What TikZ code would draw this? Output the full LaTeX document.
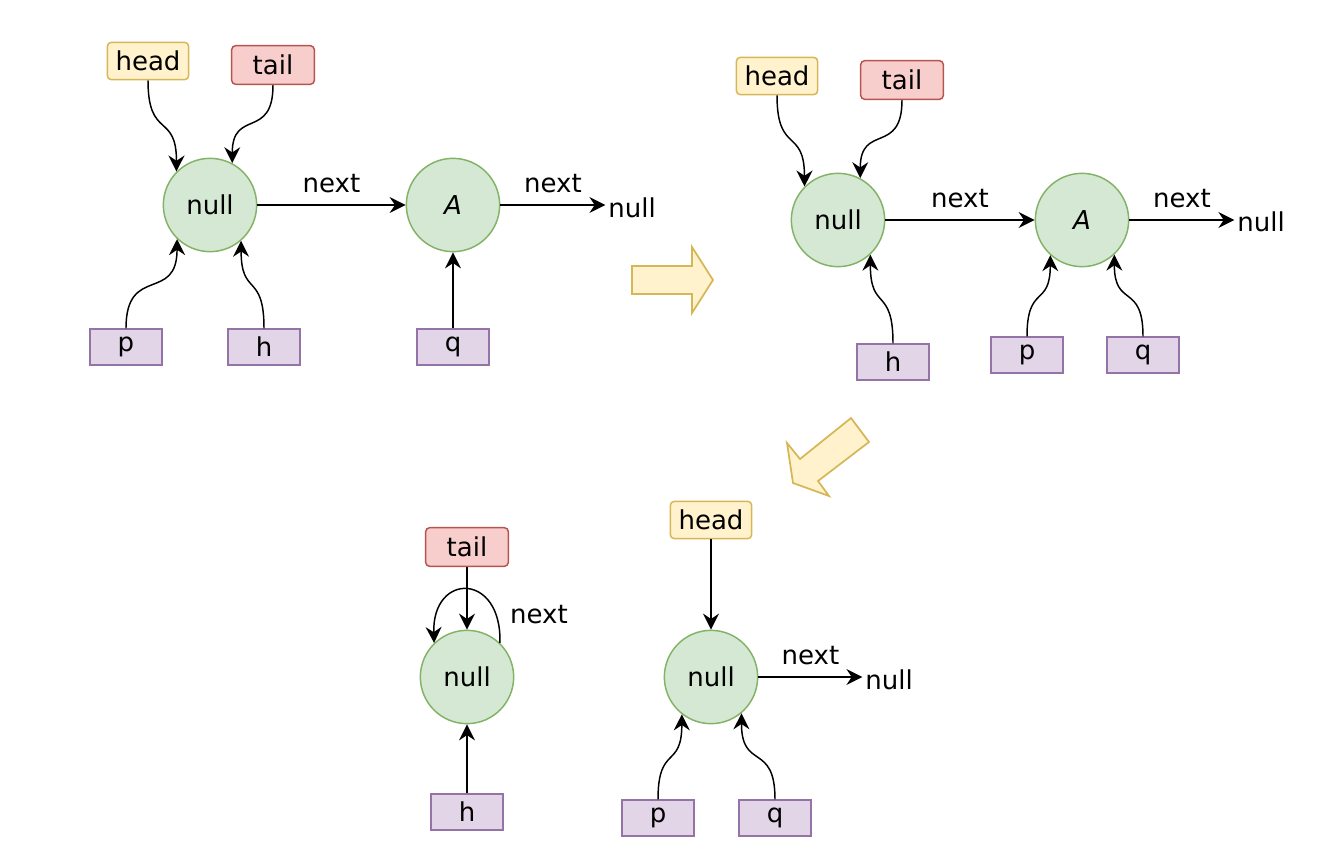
\documentclass[tikz,border=0pt]{standalone}
\usepackage{fontspec}
\setmainfont{DejaVu Sans}
\usetikzlibrary{arrows.meta}
\definecolor{hdfill}{HTML}{FFF2CC}
\definecolor{hdline}{HTML}{D6B656}
\definecolor{tlfill}{HTML}{F8CECC}
\definecolor{tlline}{HTML}{B85450}
\definecolor{itfill}{HTML}{D5E8D4}
\definecolor{itline}{HTML}{82B366}
\definecolor{ptfill}{HTML}{E1D5E7}
\definecolor{ptline}{HTML}{9673A6}
\tikzset{
  every node/.style={font=\fontsize{19.5}{22}\selectfont},
  item/.style={circle,draw=itline,fill=itfill,line width=1.1pt,minimum size=70pt,inner sep=0pt},
  headbox/.style={rounded corners=3pt,draw=hdline,fill=hdfill,line width=1.1pt,minimum width=61pt,minimum height=28pt,inner sep=0pt},
  tailbox/.style={rounded corners=3pt,draw=tlline,fill=tlfill,line width=1.1pt,minimum width=62pt,minimum height=29pt,inner sep=0pt},
  ptrbox/.style={draw=ptline,fill=ptfill,line width=1.1pt,minimum width=54pt,minimum height=27pt,inner sep=0pt},
  nil/.style={inner sep=2pt},
  ptr/.style={line width=1.1pt,-{Stealth[length=12pt,width=12pt,inset=4pt]}},
  swing/.style={looseness=1.6},
  fatarrow/.style={draw=hdline,fill=hdfill,line width=1.3pt,line join=miter}
}
\begin{document}
\begin{tikzpicture}[x=0.75pt,y=-0.75pt]
  \useasboundingbox (0,0) rectangle (1333,849);

  % first state
  \node[headbox] (head1) at (148,61) {head};
  \node[tailbox] (tail1) at (273,65) {tail};
  \node[item] (null1) at (210,205) {null};
  \node[item] (a1) at (453,205) {\itshape A};
  \node[nil] (nil1) at (632,208) {null};
  \node[ptrbox] (p1) at (126,347) {p};
  \node[ptrbox] (h1) at (264,347) {h};
  \node[ptrbox] (q1) at (453,347) {q};
  \draw[ptr] (head1.south) to[out=-90,in=90,swing] (null1.135);
  \draw[ptr] (tail1.south) to[out=-90,in=90,swing] (null1.62);
  \draw[ptr] (p1.north) to[out=90,in=-90,swing] (null1.226);
  \draw[ptr] (h1.north) to[out=90,in=-90,swing] (null1.311);
  \draw[ptr] (q1.north) -- (a1.south);
  \draw[ptr] (null1.east) -- (a1.west) node[midway,above=5pt] (next1) {next};
  \draw[ptr] (a1.east) -- (nil1.west |- a1.east) node[midway,above=5pt] (next2) {next};

  \draw[fatarrow] (632,266) -- (692,266) -- (692,247) -- (713,280)
    -- (692,313) -- (692,294) -- (632,294) -- cycle;

  % second state
  \node[headbox] (head2) at (777,76) {head};
  \node[tailbox] (tail2) at (902,80) {tail};
  \node[item] (null2) at (838,220) {null};
  \node[item] (a2) at (1082,220) {\itshape A};
  \node[nil] (nil2) at (1261,222) {null};
  \node[ptrbox] (h2) at (893,362) {h};
  \node[ptrbox] (p2) at (1027,355) {p};
  \node[ptrbox] (q2) at (1143,355) {q};
  \draw[ptr] (head2.south) to[out=-90,in=90,swing] (null2.135);
  \draw[ptr] (tail2.south) to[out=-90,in=90,swing] (null2.62);
  \draw[ptr] (h2.north) to[out=90,in=-90,swing] (null2.313);
  \draw[ptr] (p2.north) to[out=90,in=-90,swing] (a2.228);
  \draw[ptr] (q2.north) to[out=90,in=-90,swing] (a2.313);
  \draw[ptr] (null2.east) -- (a2.west) node[midway,above=5pt] (next3) {next};
  \draw[ptr] (a2.east) -- (nil2.west |- a2.east) node[midway,above=5pt] (next4) {next};

  \draw[fatarrow] (851,418) -- (869,442) -- (818,481) -- (829,496)
    -- (793,483) -- (787,443) -- (800,459) -- cycle;

  % third state
  \node[tailbox] (tail3) at (467,547) {tail};
  \node[item] (null3) at (467,677) {null};
  \node[ptrbox] (h3) at (467,812) {h};
  \node (next5) at (539,615) {next};
  \draw[ptr] (tail3.south) -- (null3.north);
  \draw[ptr] (null3.46) .. controls (502,572) and (432,572) .. (null3.134);
  \draw[ptr] (h3.north) -- (null3.south);

  \node[headbox] (head4) at (711,520) {head};
  \node[item] (null4) at (711,677) {null};
  \node[nil] (nil4) at (889,680) {null};
  \node[ptrbox] (p4) at (658,818) {p};
  \node[ptrbox] (q4) at (775,818) {q};
  \draw[ptr] (head4.south) -- (null4.north);
  \draw[ptr] (p4.north) to[out=90,in=-90,swing] (null4.232);
  \draw[ptr] (q4.north) to[out=90,in=-90,swing] (null4.310);
  \draw[ptr] (null4.east) -- (nil4.west |- null4.east) node[midway,above=5pt] (next6) {next};
\end{tikzpicture}
\end{document}
